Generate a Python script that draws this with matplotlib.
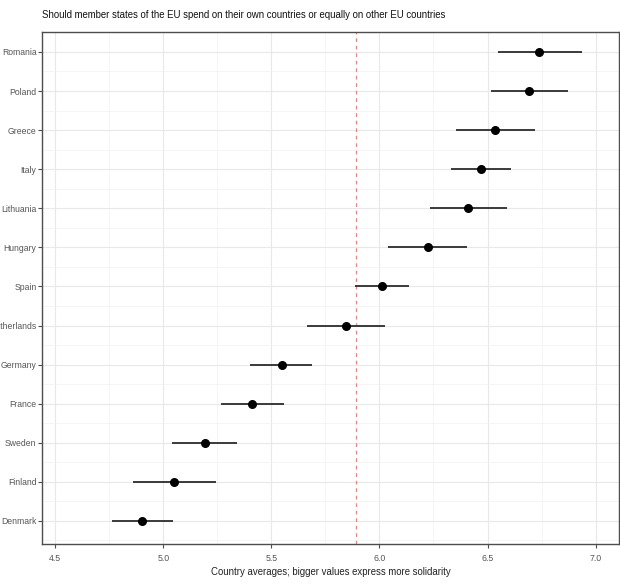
import matplotlib
matplotlib.use("Agg")
import matplotlib.pyplot as plt
from matplotlib.ticker import MultipleLocator

# data (bottom to top)
countries = ["Denmark", "Finland", "Sweden", "France", "Germany", "Netherlands", "Spain",
             "Hungary", "Lithuania", "Italy", "Greece", "Poland", "Romania"]
means = [4.904, 5.052, 5.191, 5.412, 5.549, 5.847, 6.011, 6.224, 6.411, 6.468, 6.536, 6.691, 6.739]
lower = [4.765, 4.858, 5.040, 5.267, 5.403, 5.665, 5.889, 6.040, 6.235, 6.329, 6.353, 6.514, 6.548]
upper = [5.043, 5.245, 5.339, 5.560, 5.690, 6.028, 6.139, 6.406, 6.591, 6.610, 6.719, 6.872, 6.938]
overall_mean = 5.894

title = "Should member states of the EU spend on their own countries or equally on other EU countries"
xlabel = "Country averages; bigger values express more solidarity"

plt.rcParams['font.family'] = ['Liberation Sans', 'DejaVu Sans']

fig = plt.figure(figsize=(6.2, 5.84), dpi=100)
ax = fig.add_axes([0.068, 0.0685, 0.931, 0.8767])

ypos = list(range(1, len(countries) + 1))

ax.hlines(ypos, lower, upper, color="#3a3a3a", linewidth=1.4, zorder=3)
ax.scatter(means, ypos, color="black", s=30, zorder=4)
ax.axvline(overall_mean, color="#E08888", linestyle=(0, (3, 3)), linewidth=0.9, zorder=2)

ax.set_xlim(4.44, 7.11)
ax.set_ylim(0.41, 13.51)
ax.set_yticks(ypos)
ax.set_yticklabels(countries)
ax.xaxis.set_major_locator(MultipleLocator(0.5))
ax.xaxis.set_minor_locator(MultipleLocator(0.25))
ax.set_yticks([y + 0.5 for y in ypos[:-1]] + [0.5], minor=True)

ax.grid(which="major", color="#E8E8E8", linewidth=0.8, zorder=0)
ax.grid(which="minor", color="#F1F1F1", linewidth=0.5, zorder=0)
ax.set_axisbelow(True)

for s in ax.spines.values():
    s.set_color("#4D4D4D")
    s.set_linewidth(1.0)

ax.tick_params(which="major", colors="#4D4D4D", length=3, width=0.8)
ax.tick_params(axis="y", labelsize=6.2, pad=1)
ax.tick_params(axis="x", labelsize=6.3, pad=4)
ax.tick_params(which="minor", length=0)
for lbl in ax.get_xticklabels() + ax.get_yticklabels():
    lbl.set_color("#555555")

ax.set_xlabel(xlabel, fontsize=6.9, color="#222222", labelpad=3)
fig.text(42 / 620, 1 - 15 / 584, title, fontsize=6.95, color="#111111", ha="left", va="center")

fig.savefig("out.png", dpi=100)
